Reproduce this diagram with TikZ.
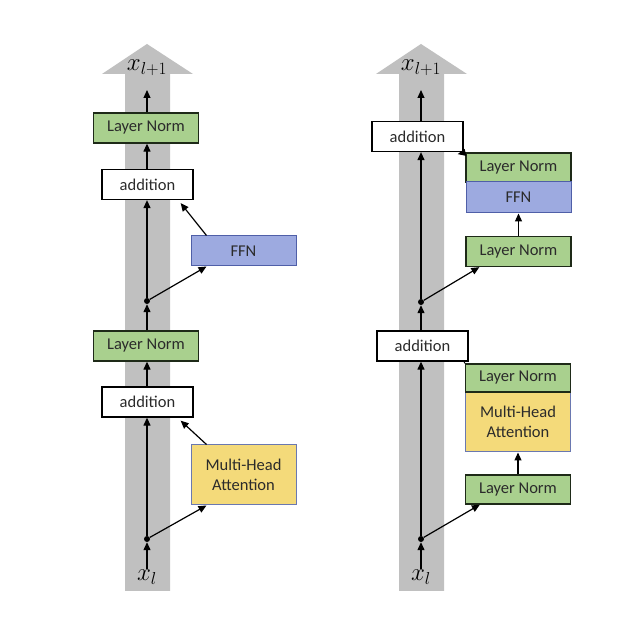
\documentclass[tikz,border=0pt]{standalone}
\usepackage{fontspec}
\setmainfont{Carlito}
\usepackage{xcolor}
\usepackage{tikz}
\usetikzlibrary{positioning,arrows.meta,calc}
\definecolor{bandgrey}{HTML}{C0C0C0}
\definecolor{normgreen}{HTML}{A9D08E}
\definecolor{normstroke}{HTML}{1E2A18}
\definecolor{ffnblue}{HTML}{9DAAE0}
\definecolor{ffnstroke}{HTML}{4F5FA8}
\definecolor{attyellow}{HTML}{F4DA7A}
\definecolor{attstroke}{HTML}{6A78B0}
\definecolor{boxtext}{HTML}{2B2B2B}
\tikzset{
  box/.style   = {draw, align=center, font=\fontsize{16.5}{19.5}\selectfont,
                  text=boxtext, inner sep=2pt, minimum width=105pt,
                  minimum height=30pt, line width=1.3pt},
  norm/.style  = {box, fill=normgreen, draw=normstroke},
  addbox/.style= {box, fill=white, draw=black, minimum width=91pt},
  ffn/.style   = {box, fill=ffnblue, draw=ffnstroke, line width=1pt},
  att/.style   = {box, fill=attyellow, draw=attstroke, line width=1pt,
                  minimum height=60pt},
  dot/.style   = {circle, fill=black, inner sep=0pt, minimum size=6pt},
  xlab/.style  = {font=\fontsize{27}{29}\selectfont, inner sep=1pt},
  arr/.style   = {-{Triangle[length=8pt,width=7pt]}, line width=1.2pt},
  band/.style  = {fill=bandgrey},
}

\begin{document}
\begin{tikzpicture}[x=1pt,y=-1pt]
  \fill[white] (0,0) rectangle (622,620);
  \useasboundingbox (0,0) rectangle (622,620);

  \fill[band] (125,591) -- (125,74) -- (102,74) -- (147,44) -- (193,74)
              -- (170,74) -- (170,591) -- cycle;
  \fill[band] (399,591) -- (399,74) -- (376,74) -- (421,44) -- (467,74)
              -- (444,74) -- (444,591) -- cycle;

  \node[xlab] (xl1L) at (147,68) {$x_{l+1}$};
  \coordinate (topL) at (147,90);
  \node[norm] (lnTopL) at (146,128) {Layer Norm};
  \node[addbox] (addTopL) at (147.5,184.5) {addition};
  \node[ffn] (ffnL) at (243.5,251) {FFN};
  \node[dot] (dotL2) at (147,301) {};
  \node[norm] (lnBotL) at (146,346) {Layer Norm};
  \node[addbox] (addBotL) at (147.5,402) {addition};
  \node[att] (mhaL) at (243.5,475) {Multi-Head\\Attention};
  \node[dot] (dotL1) at (147,539) {};
  \node[xlab] (xlL) at (147,577) {$x_l$};

  \draw[arr] (xlL.north -| dotL1) -- (dotL1);
  \draw[arr] (dotL1) -- (addBotL.south -| dotL1);
  \draw[arr] (dotL1) -- ($(mhaL.south west)+(16,0)$);
  \draw[arr] ($(mhaL.north west)+(16,0)$) -- ($(addBotL.south east)+(-13,3)$);
  \draw[arr] (addBotL.north -| dotL1) -- (lnBotL.south -| dotL1);
  \draw[arr] (lnBotL.north -| dotL1) -- (dotL2);
  \draw[arr] (dotL2) -- (addTopL.south -| dotL2);
  \draw[arr] (dotL2) -- ($(ffnL.south west)+(16,0)$);
  \draw[arr] ($(ffnL.north west)+(16,0)$) -- ($(addTopL.south east)+(-13,3)$);
  \draw[arr] (addTopL.north -| dotL2) -- (lnTopL.south -| dotL2);
  \draw[arr] (lnTopL.north -| dotL2) -- (topL);

  \node[xlab] (xl1R) at (421,68) {$x_{l+1}$};
  \coordinate (topR) at (421,90);
  \node[addbox] (addTopR) at (417.5,136.5) {addition};
  \node[norm, minimum height=29pt] (lnR3) at (518.5,167.5) {Layer Norm};
  \node[ffn, minimum height=31pt] (ffnR) at (518.5,197.5) {FFN};
  \node[norm] (lnR2) at (518.5,251.5) {Layer Norm};
  \node[dot] (dotR2) at (421,302) {};
  \node[addbox] (addBotR) at (422.5,346) {addition};
  \node[att] (mhaR) at (518,422) {Multi-Head\\Attention};
  \node[norm, minimum height=28pt] (lnR1) at (518,378) {Layer Norm};
  \node[norm, minimum height=29pt] (lnR0) at (518,489.5) {Layer Norm};
  \node[dot] (dotR1) at (421,539) {};
  \node[xlab] (xlR) at (421,577) {$x_l$};

  \draw[arr] (xlR.north -| dotR1) -- (dotR1);
  \draw[arr] (dotR1) -- (addBotR.south -| dotR1);
  \draw[arr] (dotR1) -- ($(lnR0.south west)+(15,0)$);
  \draw[arr] (lnR0.north) -- (mhaR.south);
  \draw[line width=1pt] (lnR1.north west) -- ($(addBotR.south east)+(-5,-1)$);
  \draw[arr] (addBotR.north -| dotR2) -- (dotR2);
  \draw[arr] (dotR2) -- (addTopR.south -| dotR2);
  \draw[arr] (dotR2) -- ($(lnR2.south west)+(14,0)$);
  \draw[arr] (lnR2.north) -- (ffnR.south);
  \draw[arr] (lnR3.north west) -- ($(addTopR.south east)+(-6,2)$);
  \draw[arr] (addTopR.north -| dotR2) -- (topR);
\end{tikzpicture}
\end{document}
